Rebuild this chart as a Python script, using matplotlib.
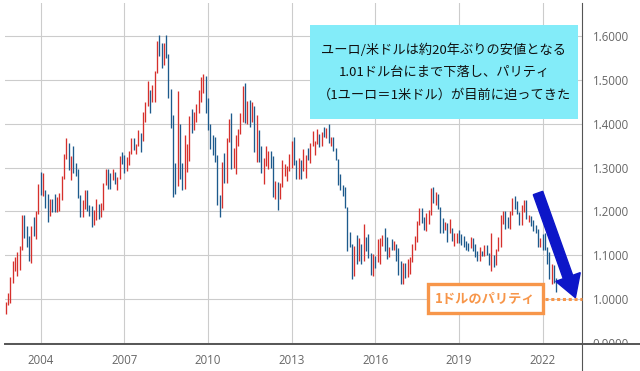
import matplotlib
matplotlib.use("Agg")
import matplotlib.pyplot as plt
import numpy as np
from matplotlib.patches import Rectangle, FancyArrow
from matplotlib.lines import Line2D
from matplotlib.transforms import IdentityTransform

# EUR/USD monthly bars, Oct 2002 - Jul 2022
start_year, start_month = 2002, 10
first_open = 0.980

highs = [
    0.993, 1.015, 1.050,
    1.087, 1.095, 1.108, 1.121, 1.193, 1.193, 1.166, 1.144, 1.168, 1.188, 1.200, 1.263,
    1.290, 1.287, 1.249, 1.239, 1.228, 1.228, 1.239, 1.234, 1.243, 1.282, 1.331, 1.367,
    1.356, 1.326, 1.349, 1.310, 1.297, 1.237, 1.227, 1.250, 1.249, 1.215, 1.212, 1.204,
    1.229, 1.216, 1.219, 1.264, 1.296, 1.298, 1.288, 1.296, 1.290, 1.279, 1.326, 1.336,
    1.330, 1.324, 1.339, 1.368, 1.368, 1.354, 1.385, 1.379, 1.427, 1.450, 1.497, 1.477,
    1.489, 1.520, 1.590, 1.602, 1.585, 1.585, 1.604, 1.560, 1.480, 1.420, 1.311, 1.475,
    1.400, 1.310, 1.374, 1.353, 1.418, 1.433, 1.428, 1.445, 1.478, 1.508, 1.514, 1.510,
    1.458, 1.399, 1.375, 1.370, 1.330, 1.238, 1.313, 1.333, 1.368, 1.412, 1.425, 1.345,
    1.375, 1.388, 1.425, 1.486, 1.494, 1.452, 1.454, 1.449, 1.441, 1.420, 1.385, 1.349,
    1.323, 1.349, 1.338, 1.338, 1.326, 1.269, 1.268, 1.264, 1.317, 1.309, 1.303, 1.331,
    1.362, 1.371, 1.317, 1.322, 1.317, 1.342, 1.330, 1.345, 1.356, 1.383, 1.362, 1.389,
    1.377, 1.382, 1.394, 1.390, 1.399, 1.370, 1.370, 1.344, 1.319, 1.286, 1.260, 1.257,
    1.211, 1.153, 1.125, 1.122, 1.147, 1.139, 1.125, 1.171, 1.141, 1.149, 1.105, 1.104,
    1.098, 1.137, 1.139, 1.146, 1.162, 1.142, 1.120, 1.137, 1.133, 1.126, 1.117, 1.087,
    1.082, 1.083, 1.091, 1.095, 1.126, 1.145, 1.178, 1.207, 1.209, 1.188, 1.196, 1.203,
    1.254, 1.256, 1.245, 1.240, 1.210, 1.185, 1.175, 1.174, 1.182, 1.162, 1.150, 1.150,
    1.157, 1.149, 1.145, 1.132, 1.127, 1.141, 1.139, 1.125, 1.109, 1.118, 1.109, 1.124,
    1.124, 1.105, 1.150, 1.100, 1.115, 1.142, 1.191, 1.201, 1.201, 1.188, 1.200, 1.230,
    1.235, 1.224, 1.199, 1.214, 1.227, 1.227, 1.191, 1.190, 1.181, 1.169, 1.161, 1.139,
    1.148, 1.150, 1.118, 1.108, 1.079, 1.077, 1.048,
]
lows = [
    0.967, 0.986, 0.990,
    1.036, 1.064, 1.052, 1.066, 1.113, 1.140, 1.120, 1.086, 1.082, 1.143, 1.137, 1.195,
    1.238, 1.236, 1.208, 1.176, 1.190, 1.199, 1.198, 1.198, 1.202, 1.226, 1.275, 1.319,
    1.295, 1.273, 1.287, 1.280, 1.230, 1.187, 1.187, 1.205, 1.201, 1.189, 1.164, 1.169,
    1.180, 1.183, 1.187, 1.204, 1.261, 1.252, 1.252, 1.272, 1.263, 1.250, 1.274, 1.309,
    1.287, 1.293, 1.306, 1.332, 1.340, 1.332, 1.350, 1.336, 1.362, 1.405, 1.441, 1.425,
    1.449, 1.449, 1.516, 1.554, 1.528, 1.535, 1.550, 1.458, 1.390, 1.233, 1.240, 1.259,
    1.275, 1.248, 1.252, 1.290, 1.316, 1.380, 1.385, 1.405, 1.424, 1.449, 1.470, 1.425,
    1.385, 1.343, 1.329, 1.313, 1.214, 1.188, 1.208, 1.266, 1.264, 1.358, 1.297, 1.300,
    1.286, 1.349, 1.377, 1.404, 1.402, 1.399, 1.393, 1.404, 1.335, 1.312, 1.314, 1.288,
    1.263, 1.303, 1.298, 1.300, 1.234, 1.229, 1.204, 1.229, 1.255, 1.280, 1.269, 1.293,
    1.300, 1.306, 1.275, 1.275, 1.274, 1.293, 1.276, 1.318, 1.311, 1.349, 1.330, 1.355,
    1.348, 1.349, 1.369, 1.368, 1.357, 1.350, 1.339, 1.317, 1.261, 1.250, 1.236, 1.208,
    1.110, 1.118, 1.046, 1.052, 1.081, 1.088, 1.079, 1.087, 1.109, 1.093, 1.056, 1.052,
    1.071, 1.085, 1.081, 1.121, 1.110, 1.091, 1.095, 1.112, 1.112, 1.086, 1.055, 1.035,
    1.034, 1.049, 1.050, 1.057, 1.085, 1.111, 1.131, 1.169, 1.173, 1.157, 1.155, 1.172,
    1.192, 1.219, 1.215, 1.206, 1.151, 1.151, 1.157, 1.130, 1.151, 1.132, 1.122, 1.127,
    1.129, 1.123, 1.118, 1.111, 1.110, 1.116, 1.110, 1.096, 1.088, 1.088, 1.098, 1.098,
    1.100, 1.078, 1.064, 1.073, 1.077, 1.110, 1.118, 1.171, 1.161, 1.162, 1.160, 1.192,
    1.205, 1.195, 1.170, 1.170, 1.199, 1.184, 1.175, 1.166, 1.156, 1.152, 1.119, 1.119,
    1.112, 1.111, 1.081, 1.047, 1.035, 1.036, 1.017,
]
closes = [
    0.988, 0.992, 1.049,
    1.077, 1.077, 1.092, 1.117, 1.180, 1.150, 1.124, 1.099, 1.165, 1.160, 1.199, 1.259,
    1.246, 1.247, 1.232, 1.197, 1.220, 1.217, 1.202, 1.218, 1.243, 1.276, 1.328, 1.356,
    1.304, 1.325, 1.296, 1.287, 1.234, 1.210, 1.212, 1.233, 1.205, 1.199, 1.179, 1.184,
    1.215, 1.192, 1.212, 1.262, 1.281, 1.279, 1.276, 1.280, 1.268, 1.277, 1.324, 1.320,
    1.302, 1.322, 1.336, 1.365, 1.345, 1.353, 1.369, 1.364, 1.425, 1.448, 1.464, 1.459,
    1.486, 1.518, 1.579, 1.560, 1.555, 1.575, 1.561, 1.467, 1.409, 1.273, 1.271, 1.397,
    1.281, 1.267, 1.325, 1.325, 1.415, 1.403, 1.425, 1.435, 1.464, 1.472, 1.500, 1.433,
    1.386, 1.362, 1.351, 1.330, 1.227, 1.222, 1.305, 1.268, 1.362, 1.393, 1.300, 1.338,
    1.369, 1.380, 1.416, 1.481, 1.438, 1.450, 1.439, 1.447, 1.339, 1.386, 1.344, 1.294,
    1.308, 1.334, 1.334, 1.324, 1.237, 1.266, 1.230, 1.258, 1.286, 1.297, 1.299, 1.319,
    1.358, 1.306, 1.282, 1.317, 1.300, 1.301, 1.330, 1.322, 1.352, 1.358, 1.359, 1.375,
    1.349, 1.380, 1.377, 1.387, 1.363, 1.369, 1.339, 1.313, 1.263, 1.252, 1.245, 1.210,
    1.129, 1.120, 1.073, 1.122, 1.099, 1.115, 1.098, 1.121, 1.118, 1.100, 1.057, 1.086,
    1.083, 1.087, 1.138, 1.145, 1.113, 1.110, 1.117, 1.116, 1.124, 1.098, 1.059, 1.052,
    1.080, 1.058, 1.065, 1.090, 1.124, 1.142, 1.184, 1.191, 1.181, 1.164, 1.190, 1.200,
    1.241, 1.219, 1.232, 1.208, 1.169, 1.168, 1.169, 1.160, 1.160, 1.131, 1.133, 1.147,
    1.145, 1.137, 1.122, 1.121, 1.117, 1.137, 1.108, 1.099, 1.090, 1.115, 1.102, 1.121,
    1.109, 1.103, 1.103, 1.095, 1.110, 1.123, 1.178, 1.194, 1.172, 1.165, 1.196, 1.222,
    1.214, 1.207, 1.173, 1.202, 1.223, 1.186, 1.187, 1.181, 1.158, 1.156, 1.134, 1.137,
    1.123, 1.122, 1.107, 1.054, 1.073, 1.048, 1.020,
]

year_ticks = [2004, 2007, 2010, 2013, 2016, 2019, 2022]
price_ticks = [0.9, 1.0, 1.1, 1.2, 1.3, 1.4, 1.5, 1.6]
note_lines = ["ユーロ/米ドルは約20年ぶりの安値となる",
              "1.01ドル台にまで下落し、パリティ",
              "（1ユーロ＝1米ドル）が目前に迫ってきた"]
parity_label = "1ドルのパリティ"
parity = 1.0

RED = "#d6302c"
BLUE = "#1d5a8c"
ORANGE = "#f7964a"
jp = ["Noto Sans CJK JP", "DejaVu Sans"]

n = len(closes)
x = start_year + (start_month - 1 + np.arange(n)) / 12.0
opens = np.r_[first_open, closes[:-1]]
cols = [RED if c >= o else BLUE for o, c in zip(opens, closes)]

W, H = 640, 371
fig = plt.figure(figsize=(6.4, 3.71), dpi=100)
ax = fig.add_axes([5 / W, 27 / H, (581.7 - 5) / W, (368 - 27) / H])

ax.vlines(x, lows, highs, colors=cols, linewidth=0.95, zorder=3)

ax.set_xlim(2002.72, 2023.405)
ax.set_ylim(0.8975, 1.676)
ax.set_xticks(year_ticks)
ax.set_xticklabels([str(y) for y in year_ticks])
ax.set_yticks(price_ticks)
ax.set_yticklabels(["%.4f" % v for v in price_ticks])
ax.yaxis.tick_right()
ax.tick_params(length=0, labelsize=8.3, labelcolor="#666666")
ax.tick_params(axis="y", pad=8)
ax.tick_params(axis="x", pad=7)
for lab in ax.get_xticklabels() + ax.get_yticklabels():
    lab.set_fontfamily("Open Sans")
ax.grid(True, color="#cccccc", linewidth=0.8, zorder=0)
for s in ["top", "left"]:
    ax.spines[s].set_visible(False)
ax.spines["right"].set_color("#555555")
ax.spines["right"].set_linewidth(0.8)
ax.spines["bottom"].set_color("#555555")
ax.spines["bottom"].set_linewidth(1.4)

# parity dotted line
ax.plot([2022.1, 2023.405], [parity, parity], color=ORANGE, linewidth=2.2,
        linestyle=(0, (1, 0.9)), zorder=4, clip_on=False)

px = IdentityTransform()
# hide lower part of the bottom tick label, extend axis lines
fig.add_artist(Rectangle((582.5, 0), 60, 27, transform=px, facecolor="white",
                         edgecolor="none", zorder=5))
fig.add_artist(Line2D([581.7, 640], [27, 27], transform=px, color="#555555",
                      linewidth=1.4, zorder=6))
fig.add_artist(Line2D([581.7, 581.7], [0, 27], transform=px, color="#555555",
                      linewidth=0.8, zorder=6))

# note box
fig.add_artist(Rectangle((310, H - 119), 268, 94, transform=px,
                         facecolor="#83ecf9", edgecolor="none", zorder=7))
for i, line in enumerate(note_lines):
    fig.text(444 / W, (H - 50 - 22.5 * i) / H, line, ha="center", va="center",
             fontsize=9.5, family=jp, color="#111111", zorder=8)

# arrow
fig.add_artist(FancyArrow(538, H - 193, 30, -84, width=10, head_width=26,
                          head_length=22, length_includes_head=False,
                          transform=px, color="#0d16c8", zorder=7))

# parity label box
fig.add_artist(Rectangle((428, H - 313), 115, 29, transform=px,
                         facecolor="white", edgecolor=ORANGE, linewidth=2.4,
                         zorder=7))
fig.text(485.5 / W, (H - 299) / H, parity_label, ha="center", va="center",
         fontsize=9.5, fontweight="bold", family=jp, color=ORANGE, zorder=8)

fig.savefig("out.png", dpi=100)
